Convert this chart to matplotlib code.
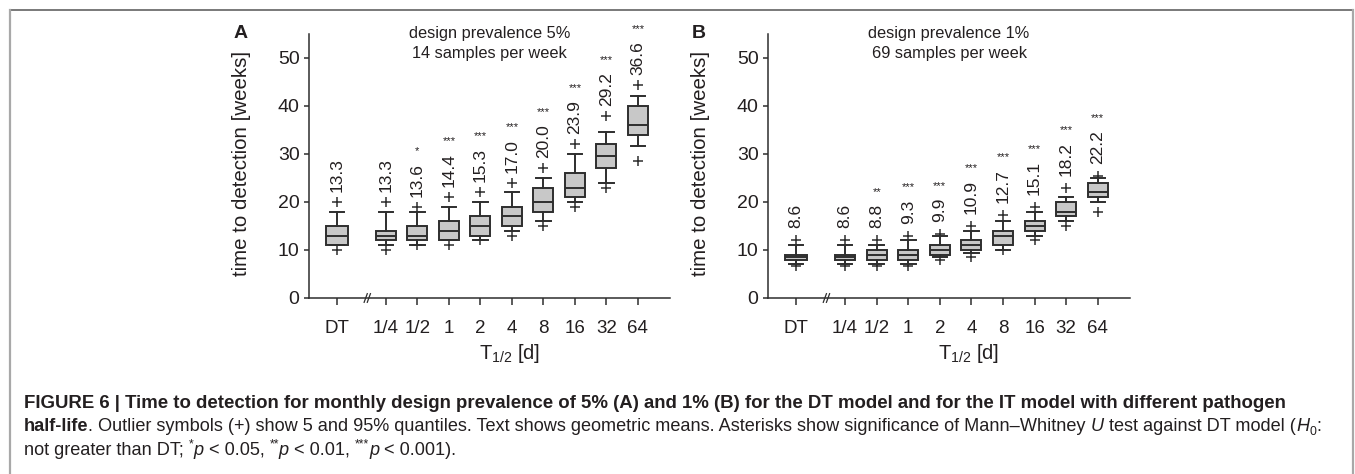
import numpy as np
import matplotlib
matplotlib.use('Agg')
import matplotlib.pyplot as plt
from matplotlib import font_manager
from matplotlib.transforms import IdentityTransform
from matplotlib.lines import Line2D

# ---- data ----
half_lives = ['DT', '1/4', '1/2', '1', '2', '4', '8', '16', '32', '64']

# panel A: design prevalence 5 %
a_q1 = [11, 12, 12, 12, 13, 15, 18, 21, 27, 34]
a_med = [13, 13, 13, 14, 15, 17, 20, 23, 29.5, 36]
a_q3 = [15, 14, 15, 16, 17, 19, 23, 26, 32, 40]
a_wlo = [11, 11, 11, 12, 12, 14, 16, 20, 24, 31.6]
a_whi = [18, 18, 18, 19, 20, 22, 25, 30, 34.5, 42]
a_p5 = [10, 10, 11, 11, 12, 13, 15, 19, 23, 28.6]
a_p95 = [20, 20, 19, 21, 22, 24, 27, 32, 38, 44.4]
a_gmean = [13.3, 13.3, 13.6, 14.4, 15.3, 17.0, 20.0, 23.9, 29.2, 36.6]
a_sig = ['', '', '*', '***', '***', '***', '***', '***', '***', '***']

# panel B: design prevalence 1 %
b_q1 = [8, 8, 8, 8, 9, 10, 11, 14, 17, 21]
b_med = [8.5, 8.5, 9, 9, 10, 11, 13, 15, 18, 22]
b_q3 = [9, 9, 10, 10, 11, 12, 14, 16, 20, 24]
b_wlo = [7, 7, 7, 7, 8.5, 9.3, 10, 13, 16, 20]
b_whi = [11, 11, 11, 12, 13, 14, 16, 18, 21, 25]
b_p5 = [6.7, 6.7, 6.7, 6.7, 8, 8.6, 10, 12, 15, 18]
b_p95 = [12, 12, 12, 13, 13.3, 15, 17.3, 19, 23, 25.5]
b_gmean = [8.6, 8.6, 8.8, 9.3, 9.9, 10.9, 12.7, 15.1, 18.2, 22.2]
b_sig = ['', '', '**', '***', '***', '***', '***', '***', '***', '***']

# ---- fonts ----
names = {f.name for f in font_manager.fontManager.ttflist}
REG = 'Liberation Sans' if 'Liberation Sans' in names else 'DejaVu Sans'
NARROW = 'Liberation Sans Narrow' if 'Liberation Sans Narrow' in names else REG
plt.rcParams['font.family'] = [REG, 'DejaVu Sans']
plt.rcParams['mathtext.fontset'] = 'custom'
plt.rcParams['mathtext.rm'] = NARROW
plt.rcParams['mathtext.it'] = NARROW + ':italic'
plt.rcParams['mathtext.bf'] = NARROW + ':bold'

DARK = '#2e2e2e'
TEXT = '#231f20'
W, H = 1355, 474

fig = plt.figure(figsize=(W / 100, H / 100), dpi=100)
renderer = fig.canvas.get_renderer()

# positions: DT separated from the half-life series by a gap
POS = [0] + [1.55 + i for i in range(len(half_lives) - 1)]
WIDTHS = [0.72] + [0.63] * (len(half_lives) - 1)


def px_axes(left, right, top, bottom):
    return fig.add_axes([left / W, 1 - bottom / H, (right - left) / W, (bottom - top) / H])


def draw_panel(ax, q1, med, q3, wlo, whi, p5, p95, gmean, sig, info, letter, gap):
    stats = []
    for i in range(len(half_lives)):
        stats.append(dict(med=med[i], q1=q1[i], q3=q3[i], whislo=wlo[i], whishi=whi[i],
                          fliers=[p5[i], p95[i]], label=half_lives[i]))
    lw = 1.4
    ax.bxp(stats, positions=POS, widths=WIDTHS, capwidths=0.46, patch_artist=True,
           boxprops=dict(facecolor='#c8c8c8', edgecolor=DARK, linewidth=lw),
           medianprops=dict(color=DARK, linewidth=lw),
           whiskerprops=dict(color=DARK, linewidth=lw),
           capprops=dict(color=DARK, linewidth=lw),
           flierprops=dict(marker='+', markeredgecolor=DARK, markersize=7, markeredgewidth=1.1))

    ax.set_xlim(-0.89, 10.57)
    ax.set_ylim(0, 55)
    ax.set_yticks([0, 10, 20, 30, 40, 50])
    for s in ['top', 'right']:
        ax.spines[s].set_visible(False)
    for s in ['left', 'bottom']:
        ax.spines[s].set_color(DARK)
        ax.spines[s].set_linewidth(1.1)
    ax.tick_params(axis='y', direction='out', length=3.8, width=1.1, color=DARK,
                   labelsize=14, labelcolor=TEXT, pad=3)
    ax.tick_params(axis='x', direction='out', length=5, width=1.1, color=DARK,
                   labelsize=13.5, labelcolor=TEXT, pad=11)
    for lab in ax.get_xticklabels():
        lab.set_fontfamily(NARROW)

    ax.set_ylabel('time to detection [weeks]', fontsize=14.8, color=TEXT, va='center')
    ax.yaxis.set_label_coords(-0.186, 0.508)
    ax.set_xlabel(r'T$_{\mathregular{1/2}}$ [d]', fontsize=14.5, color=TEXT, va='center')
    ax.xaxis.set_label_coords(0.555, -0.209)

    ax.text(0.5, 0.964, info, transform=ax.transAxes, ha='center', va='center',
            fontsize=11.8, color=TEXT, linespacing=1.35)
    ax.text(-0.19, 1.0, letter, transform=ax.transAxes, ha='center', va='center',
            fontsize=14, fontweight='bold', color=TEXT)

    # axis break mark between DT and the half-life series
    for dx in (0.0, 0.1):
        ax.plot([0.86 + dx, 0.96 + dx], [-0.9, 0.9], color=DARK, lw=0.9, clip_on=False)

    # geometric means (rotated) and significance stars
    for i in range(len(half_lives)):
        t = ax.text(POS[i], p95[i] + gap, f'{gmean[i]:.1f}', rotation=90, ha='center',
                    va='bottom', fontsize=12.5, color=TEXT)
        if sig[i]:
            top = t.get_window_extent(renderer).y1
            ys = ax.transData.inverted().transform((0, top + 12))[1]
            ax.text(POS[i], ys, sig[i], ha='center', va='center', fontsize=8, color=TEXT)


ax_a = px_axes(309, 670, 34, 298)
ax_b = px_axes(768, 1130, 34, 298)
draw_panel(ax_a, a_q1, a_med, a_q3, a_wlo, a_whi, a_p5, a_p95, a_gmean, a_sig,
           'design prevalence 5%\n14 samples per week', 'A', 2.1)
draw_panel(ax_b, b_q1, b_med, b_q3, b_wlo, b_whi, b_p5, b_p95, b_gmean, b_sig,
           'design prevalence 1%\n69 samples per week', 'B', 2.5)

# ---- frame around the figure ----
fig.add_artist(Line2D([9.5, 1353], [H - 10, H - 10], transform=IdentityTransform(),
                      color='#6e6e6e', lw=1.3))
for xb in (9.5, 1353):
    fig.add_artist(Line2D([xb, xb], [0, H - 10], transform=IdentityTransform(),
                          color='#a8a8a8', lw=1.6))

# ---- caption ----
line1 = [('FIGURE 6 | Time to detection for monthly design prevalence of 5% (A) and 1% (B) '
          'for the DT model and for the IT model with different pathogen', 'bold')]
line2 = [('half-life', 'bold'),
         ('. Outlier symbols (+) show 5 and 95% quantiles. Text shows geometric means. '
          'Asterisks show significance of Mann\u2013Whitney ', 'normal'),
         ('U', 'italic'), (' test against DT model (', 'normal'),
         ('H', 'italic'), ('0', 'sub'), (':', 'normal')]
line3 = [('not greater than DT; ', 'normal'), ('*', 'sup'), ('p', 'italic'),
         (' < 0.05, ', 'normal'), ('**', 'sup'), ('p', 'italic'),
         (' < 0.01, ', 'normal'), ('***', 'sup'), ('p', 'italic'),
         (' < 0.001).', 'normal')]


def run_props(kind, size):
    p = dict(family=NARROW, fontsize=size, color=TEXT)
    if kind == 'bold':
        p['fontweight'] = 'bold'
    elif kind == 'italic':
        p['fontstyle'] = 'italic'
    elif kind in ('sub', 'sup'):
        p['fontsize'] = size * 0.68
    return p


def text_width(s, props):
    t = fig.text(0, 0, '|' + s + '|', transform=IdentityTransform(), **props)
    w1 = t.get_window_extent(renderer).width
    t.remove()
    t = fig.text(0, 0, '||', transform=IdentityTransform(), **props)
    w2 = t.get_window_extent(renderer).width
    t.remove()
    return w1 - w2


def line_width(runs, size):
    return sum(text_width(s, run_props(k, size)) for s, k in runs)


def draw_line(runs, x, y_center, size):
    size_px = size / 72 * 100
    base = H - y_center - 0.36 * size_px
    for s, k in runs:
        props = run_props(k, size)
        yy = base
        if k == 'sub':
            yy -= 0.22 * size_px
        elif k == 'sup':
            yy += 0.38 * size_px
        fig.text(x, yy, s, transform=IdentityTransform(), va='baseline', ha='left', **props)
        x += text_width(s, props)


x0 = 24
cap_size = 12.0
cap_size *= (1322 - x0) / line_width(line2, cap_size)
bold_size = cap_size * (1290 - x0) / line_width(line1, cap_size)
draw_line(line1, x0, 401, bold_size)
draw_line(line2, x0, 424.5, cap_size)
draw_line(line3, x0, 448, cap_size)

fig.savefig('out.png', dpi=100)
